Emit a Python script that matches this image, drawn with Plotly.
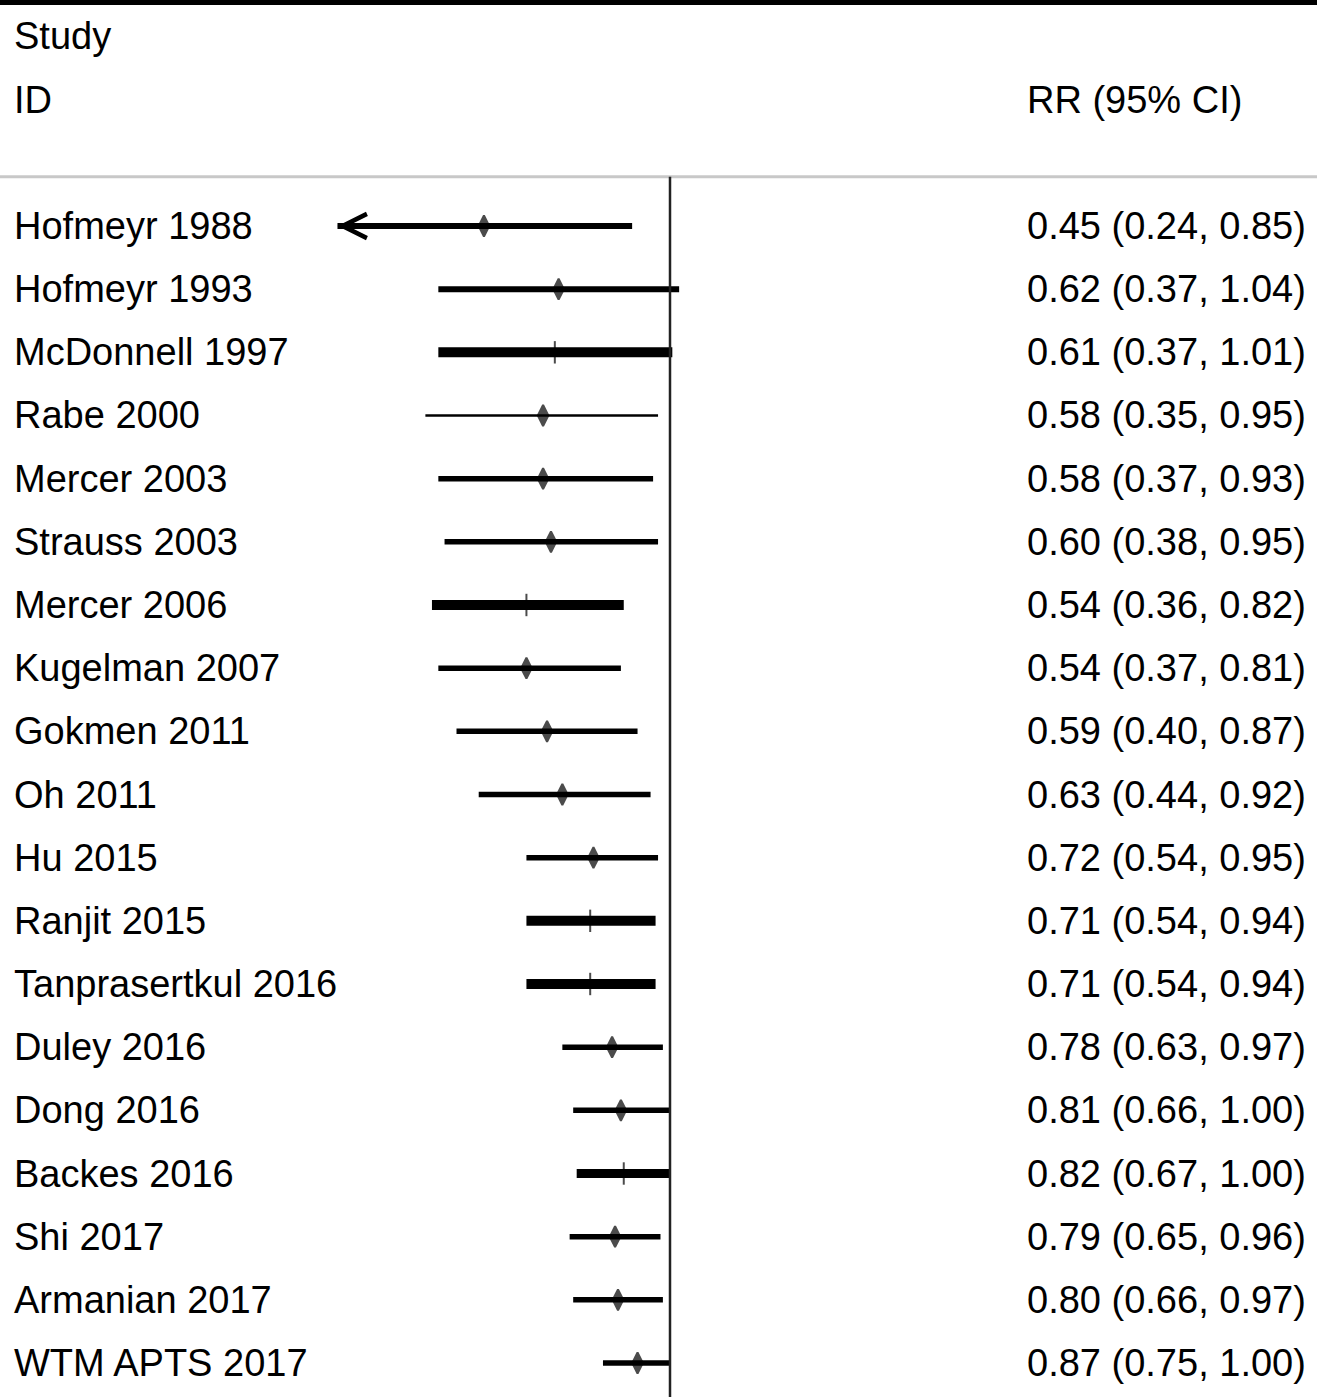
import math
import plotly.graph_objects as go

# ---------------- data ----------------
studies = ["Hofmeyr 1988", "Hofmeyr 1993", "McDonnell 1997", "Rabe 2000", "Mercer 2003",
           "Strauss 2003", "Mercer 2006", "Kugelman 2007", "Gokmen 2011", "Oh 2011",
           "Hu 2015", "Ranjit 2015", "Tanprasertkul 2016", "Duley 2016", "Dong 2016",
           "Backes 2016", "Shi 2017", "Armanian 2017", "WTM APTS 2017"]
rr = [0.45, 0.62, 0.61, 0.58, 0.58, 0.60, 0.54, 0.54, 0.59, 0.63,
      0.72, 0.71, 0.71, 0.78, 0.81, 0.82, 0.79, 0.80, 0.87]
ci_low = [0.24, 0.37, 0.37, 0.35, 0.37, 0.38, 0.36, 0.37, 0.40, 0.44,
          0.54, 0.54, 0.54, 0.63, 0.66, 0.67, 0.65, 0.66, 0.75]
ci_high = [0.85, 1.04, 1.01, 0.95, 0.93, 0.95, 0.82, 0.81, 0.87, 0.92,
           0.95, 0.94, 0.94, 0.97, 1.00, 1.00, 0.96, 0.97, 1.00]
header_left = ["Study", "ID"]
header_right = "RR (95% CI)"
null_value = 1.0

# ---------------- styling ----------------
line_widths = [6, 6, 10, 2.5, 5.5, 5.5, 10, 5.5, 5.5, 5.5,
               5.5, 10, 10, 5.5, 5.5, 9, 5.5, 5.5, 5.5]
FONT = "Liberation Sans, Arial, sans-serif"
FS = 38
W, H = 1317, 1397
LEFT_X = 12 / W
RIGHT_X = 1025 / W

fig = go.Figure()
rows = list(range(len(studies)))

for i in rows:
    fig.add_trace(go.Scatter(
        x=[ci_low[i], ci_high[i]], y=[i, i], mode="lines",
        line=dict(color="black", width=line_widths[i]),
        hoverinfo="skip", showlegend=False))

sym = ["line-ns" if w >= 9 else "diamond-tall" for w in line_widths]
fig.add_trace(go.Scatter(
    x=rr, y=rows, mode="markers",
    marker=dict(symbol=sym, size=[16 if s == "line-ns" else 15 for s in sym],
                color="black", line=dict(color="black", width=2)),
    showlegend=False, hoverinfo="x+y"))

# arrow on the truncated lower CI of the first study
fig.add_annotation(x=math.log10(ci_low[0]), y=0, xref="x", yref="y",
                   ax=25, ay=0, axref="pixel", ayref="pixel",
                   showarrow=True, arrowhead=5, arrowsize=1.9, arrowwidth=2.5,
                   arrowcolor="black", standoff=0, text="")

# text columns
for i, s in enumerate(studies):
    fig.add_annotation(x=LEFT_X, y=i, xref="paper", yref="y", text=s,
                       showarrow=False, xanchor="left", yanchor="middle",
                       font=dict(family=FONT, size=FS, color="black"))
    label = f"{rr[i]:.2f} ({ci_low[i]:.2f}, {ci_high[i]:.2f})"
    fig.add_annotation(x=RIGHT_X, y=i, xref="paper", yref="y", text=label,
                       showarrow=False, xanchor="left", yanchor="middle",
                       font=dict(family=FONT, size=FS, color="black"))

for k, h in enumerate(header_left):
    fig.add_annotation(x=LEFT_X, y=-3 + k, xref="paper", yref="y", text=h,
                       showarrow=False, xanchor="left", yanchor="middle",
                       font=dict(family=FONT, size=FS, color="black"))
fig.add_annotation(x=RIGHT_X, y=-2, xref="paper", yref="y", text=header_right,
                   showarrow=False, xanchor="left", yanchor="middle",
                   font=dict(family=FONT, size=FS, color="black"))

# header separator, top border, null line
sep_y = -0.78
fig.add_shape(type="line", xref="paper", yref="y", x0=0, x1=1, y0=sep_y, y1=sep_y,
              line=dict(color="#c8c8c8", width=3))
fig.add_shape(type="rect", xref="paper", yref="paper", x0=0, x1=1, y0=0.9965, y1=1.01,
              fillcolor="black", line=dict(width=0))
fig.add_shape(type="line", xref="x", yref="y", x0=null_value, x1=null_value,
              y0=sep_y, y1=len(studies) + 1, line=dict(color="#222", width=2.5))

# axes: 233 px per natural-log unit, RR=1 at x=670
px_per_log10 = 233 * math.log(10)
x0 = -670 / px_per_log10
x1 = (W - 670) / px_per_log10
row_h = 63.17
y_top = 0 - 226 / row_h
y_bot = (len(studies) - 1) + (H - 1363) / row_h

fig.update_xaxes(type="log", range=[x0, x1], visible=False, showgrid=False)
fig.update_yaxes(range=[y_bot, y_top], visible=False, showgrid=False)
fig.update_layout(width=W, height=H, margin=dict(l=0, r=0, t=0, b=0),
                  plot_bgcolor="white", paper_bgcolor="white")

fig.write_html("out.html")
